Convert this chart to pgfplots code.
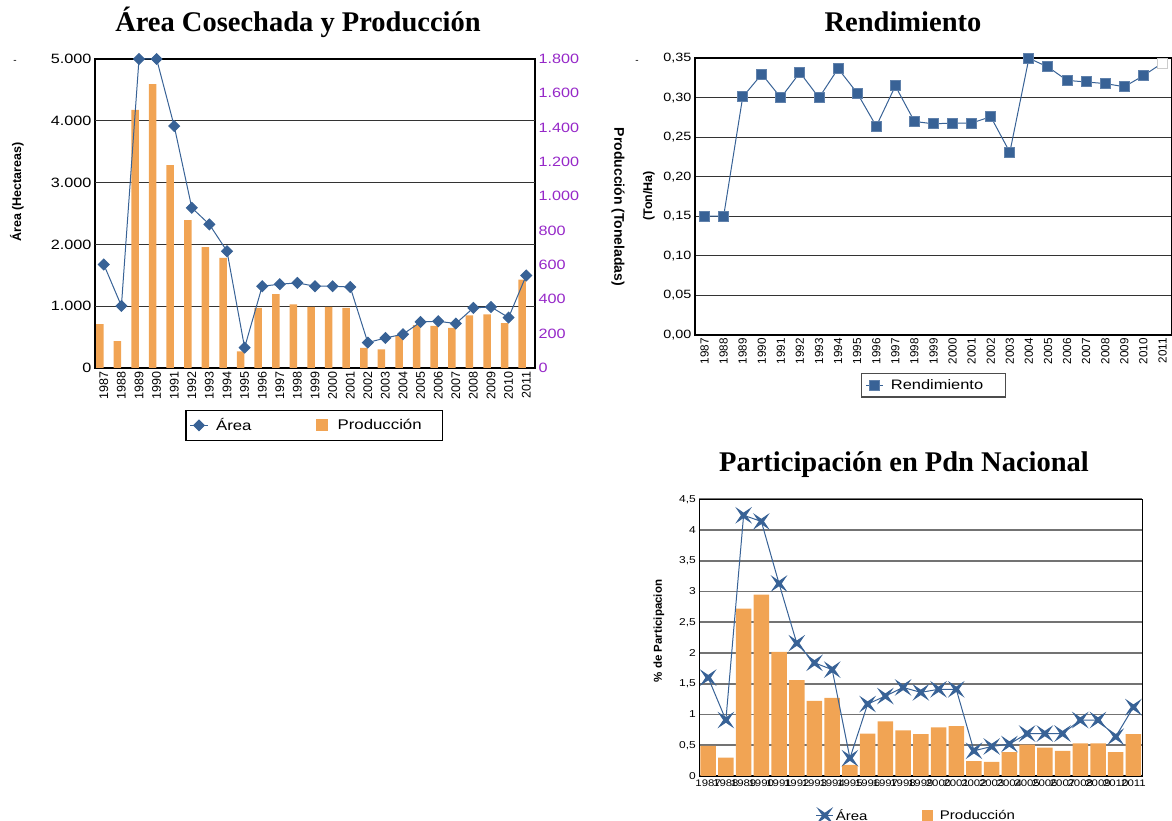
\documentclass[border=0pt]{standalone}
\usepackage{fontspec}
\usepackage{pgfplots}
\usepackage{pgfplotstable}
\pgfplotsset{compat=1.18}
\setmainfont{Liberation Sans}
\newfontfamily\wsans{Liberation Sans}[FakeStretch=1.2]
\newfontfamily\tserif{Liberation Serif}
\newcommand\fs[1]{\fontsize{#1}{#1}\selectfont}
\definecolor{barorange}{RGB}{241,164,84}
\definecolor{lineblue}{RGB}{56,98,150}
\definecolor{tickpurple}{RGB}{150,40,200}

\pgfdeclareplotmark{xstar}{%
  \pgfpathmoveto{\pgfqpoint{\pgfplotmarksize}{\pgfplotmarksize}}%
  \pgfpathlineto{\pgfqpoint{0pt}{0.32\pgfplotmarksize}}%
  \pgfpathlineto{\pgfqpoint{-\pgfplotmarksize}{\pgfplotmarksize}}%
  \pgfpathlineto{\pgfqpoint{-0.32\pgfplotmarksize}{0pt}}%
  \pgfpathlineto{\pgfqpoint{-\pgfplotmarksize}{-\pgfplotmarksize}}%
  \pgfpathlineto{\pgfqpoint{0pt}{-0.32\pgfplotmarksize}}%
  \pgfpathlineto{\pgfqpoint{\pgfplotmarksize}{-\pgfplotmarksize}}%
  \pgfpathlineto{\pgfqpoint{0.32\pgfplotmarksize}{0pt}}%
  \pgfpathclose
  \pgfusepathqfillstroke}

\pgfplotsset{
  every axis/.append style={scale only axis, /pgf/number format/assume math mode=true},
  yearticks/.style={xtick={0,...,24},
    xticklabels={1987,1988,1989,1990,1991,1992,1993,1994,1995,1996,1997,1998,1999,2000,2001,2002,2003,2004,2005,2006,2007,2008,2009,2010,2011}},
}

% Panel 1: area (ha) and production (t)
\pgfplotstableread{
x area prod
0 1675 255
1 1004 156
2 5000 1503
3 5000 1654
4 3915 1182
5 2592 861
6 2323 704
7 1890 641
8 330 97
9 1323 350
10 1356 430
11 1377 370
12 1323 356
13 1323 356
14 1310 350
15 411 117
16 486 109
17 546 191
18 745 249
19 756 245
20 719 233
21 972 307
22 988 313
23 816 262
24 1497 515
}\tabA

% Panel 2: rendimiento
\pgfplotstableread{
x rend
0 0.150
1 0.150
2 0.301
3 0.330
4 0.300
5 0.332
6 0.300
7 0.337
8 0.306
9 0.264
10 0.315
11 0.270
12 0.267
13 0.268
14 0.268
15 0.276
16 0.231
17 0.350
18 0.339
19 0.322
20 0.320
21 0.318
22 0.314
23 0.328
24 0.344
}\tabB

% Panel 3: participacion
\pgfplotstableread{
x area prod
0 1.60 0.49
1 0.91 0.30
2 4.24 2.72
3 4.14 2.95
4 3.13 2.02
5 2.16 1.56
6 1.84 1.22
7 1.73 1.27
8 0.29 0.18
9 1.17 0.69
10 1.30 0.89
11 1.44 0.74
12 1.36 0.68
13 1.41 0.79
14 1.41 0.81
15 0.41 0.24
16 0.48 0.23
17 0.52 0.39
18 0.69 0.51
19 0.69 0.46
20 0.69 0.41
21 0.91 0.53
22 0.91 0.53
23 0.64 0.39
24 1.12 0.68
}\tabC

\begin{document}
\begin{tikzpicture}
\path[use as bounding box] (0pt,0pt) rectangle (1172pt,821pt);
\coordinate (pA) at (95pt,453pt);
\coordinate (pB) at (695pt,486.3pt);
\coordinate (pC) at (699.3pt,45pt);

% ---------- Panel 1, right axis (production bars) ----------
\begin{axis}[
  at={(pA)}, anchor=south west, width=440pt, height=309pt,
  xmin=-0.5, xmax=24.5, ymin=0, ymax=1800,
  yearticks,
  x tick label style={rotate=90, anchor=east, font=\fs{12.5}},
  ytick={0,200,...,1800}, yticklabel pos=right,
  y tick label style={font=\wsans\fs{13.5}, text=tickpurple},
  /pgf/number format/use comma, /pgf/number format/1000 sep={.},
  major tick length=0,
  extra y ticks={360,720,1080,1440}, extra y tick labels={},
  extra y tick style={grid=major, major grid style={black!80, line width=1.3pt}},
  axis line style={black, line width=1.6pt},
]
\addplot[ybar, bar width=7.5pt, bar shift=-4pt, fill=barorange, draw=none] table[x=x,y=prod]{\tabA};
\end{axis}

% ---------- Panel 1, left axis (area line) ----------
\begin{axis}[
  at={(pA)}, anchor=south west, width=440pt, height=309pt,
  xmin=-0.5, xmax=24.5, ymin=0, ymax=5000,
  xtick=\empty, ytick={0,1000,...,5000},
  y tick label style={font=\wsans\fs{13.5}},
  /pgf/number format/use comma, /pgf/number format/1000 sep={.},
  major tick length=0, axis line style={draw=none}, clip=false,
  legend columns=2,
  legend style={at={(0.4985,-0.136)}, anchor=north, draw=black, line width=1.1pt,
    font=\wsans\fs{14}, inner xsep=4pt, inner ysep=6pt,
    /tikz/column 1/.style={column sep=6pt},
    /tikz/column 2/.style={column sep=62pt},
    /tikz/column 3/.style={column sep=8pt}},
]
\addplot[lineblue, line width=1pt, mark=square*, mark size=3.8pt,
  mark options={rotate=45, fill=lineblue, draw=lineblue}] table[x=x,y=area]{\tabA};
\addlegendentry{Área}
\addlegendimage{legend image code/.code={\fill[barorange] (2pt,-5.5pt) rectangle (13pt,5.5pt);}}
\addlegendentry{Producción\hspace*{15pt}}
\end{axis}

% ---------- Panel 2: Rendimiento ----------
\begin{axis}[
  at={(pB)}, anchor=south west, width=477pt, height=276.4pt,
  xmin=-0.5, xmax=24.5, ymin=0, ymax=0.35,
  yearticks,
  x tick label style={rotate=90, anchor=east, font=\fs{11.7}},
  ytick={0,0.05,0.1,0.15,0.2,0.25,0.3,0.35},
  y tick label style={font=\wsans\fs{12}, /pgf/number format/.cd, fixed, fixed zerofill, precision=2, use comma},
  ymajorgrids, major grid style={black!80, line width=1.2pt},
  major tick length=0, axis line style={black, line width=1.8pt}, clip=false,
  legend style={at={(0.5,-0.1386)}, anchor=north, draw=black!70, line width=1.1pt,
    font=\wsans\fs{13.7}, inner xsep=4pt, inner ysep=4pt,
    /tikz/column 1/.style={column sep=5pt}},
]
\addplot[lineblue, line width=1pt, mark=square*, mark size=5pt,
  mark options={fill=lineblue, draw=lineblue!80!white}] table[x=x,y=rend]{\tabB};
\addlegendentry{Rendimiento\hspace*{16pt}}
\addplot[only marks, mark=square*, mark size=5pt, mark options={fill=white, draw=black!20}, forget plot]
  coordinates {(24,0.344)};
\end{axis}

% ---------- Panel 3: Participacion ----------
\begin{axis}[
  at={(pC)}, anchor=south west, width=443pt, height=276.7pt,
  xmin=-0.5, xmax=24.5, ymin=0, ymax=4.5,
  yearticks,
  x tick label style={font=\wsans\fs{9.5}},
  ytick={0,0.5,1,1.5,2,2.5,3,3.5,4,4.5},
  y tick label style={font=\wsans\fs{10}, /pgf/number format/.cd, use comma},
  ymajorgrids, major grid style={black!55, line width=1.6pt},
  major tick length=0, axis line style={black, line width=1.5pt}, clip=false,
  legend columns=2,
  legend style={at={(0.49,-0.105)}, anchor=north, draw=none, fill=none,
    font=\wsans\fs{12.5},
    /tikz/column 2/.style={column sep=52pt},
    /tikz/column 3/.style={column sep=6pt}},
]
\addplot[ybar, bar width=15.5pt, bar shift=0pt, fill=barorange, draw=none, forget plot] table[x=x,y=prod]{\tabC};
\addplot[lineblue, line width=1pt, mark=xstar, mark size=6.5pt,
  mark options={fill=lineblue, draw=lineblue}] table[x=x,y=area]{\tabC};
\addlegendentry{Área}
\addlegendimage{legend image code/.code={\fill[barorange] (2pt,-5pt) rectangle (12pt,5pt);}}
\addlegendentry{Producción}
\end{axis}

% ---------- titles and axis labels ----------
\node[font=\tserif\bfseries\fs{28.5}, anchor=base] at (298pt,789pt) {Área Cosechada y Producción};
\node[font=\tserif\bfseries\fs{28.5}, anchor=base] at (903pt,789pt) {Rendimiento};
\node[font=\tserif\bfseries\fs{28.5}, anchor=base] at (904pt,349pt) {Participación en Pdn Nacional};
\node[rotate=90, font=\bfseries\fs{12.5}] at (17pt,629pt) {Área (Hectareas)};
\node[rotate=-90, font=\bfseries\fs{14}] at (618pt,614pt) {Producción (Toneladas)};
\node[rotate=90, font=\bfseries\fs{12.5}] at (649pt,625pt) {(Ton/Ha)};
\node[rotate=90, font=\bfseries\fs{11.5}] at (659pt,190pt) {\% de Participacion};
\node[font=\fs{10}] at (15pt,759pt) {-};
\node[font=\fs{10}] at (637pt,759pt) {-};
\end{tikzpicture}
\end{document}
